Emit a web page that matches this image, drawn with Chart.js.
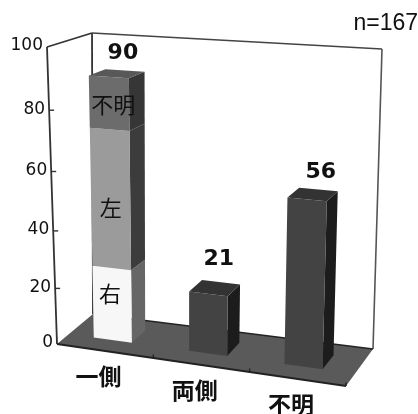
<!DOCTYPE html>
<html>
<head>
<meta charset="utf-8">
<style>
  html, body { margin: 0; padding: 0; background: #fff; }
  canvas { display: block; }
</style>
<script src="https://cdn.jsdelivr.net/npm/chart.js@4"></script>
</head>
<body>
<canvas id="chartLado" width="418" height="414"></canvas>
<script>
const categories = ["一側", "両側", "不明"];
const derecha = [26, 0, 0];
const izquierda = [47, 0, 0];
const noConsta = [17, 0, 0];
const otros = [0, 21, 56];
const yTicks = [0, 20, 40, 60, 80, 100];

// Esquinas de la caja 3D, en píxeles del canvas
const box = {
  fb0: [57, 344], fb1: [346, 386], bb0: [93, 314], bb1: [373, 349],
  ft0: [47, 47], ft1: [356, 66], bt0: [92, 33], bt1: [382, 49],
};
const barFront = 0.33, barBack = 0.72;
const xShift = -0.013;
const sansFont = '"DejaVu Sans", sans-serif';
const cjkFont = '"Noto Sans CJK JP", sans-serif';
// Ajuste fino de los totales sobre cada barra
const totalNudge = [[3, 4], [1, -5], [5, 2]];

const lerp = (a, b, t) => [a[0] + (b[0] - a[0]) * t, a[1] + (b[1] - a[1]) * t];

// u: a lo largo de categorías, d: profundidad, v: altura (todo de 0 a 1)
function project(u, d, v) {
  const w = v - 0.08 * v * (1 - v);
  const bottom = lerp(lerp(box.fb0, box.fb1, u), lerp(box.bb0, box.bb1, u), d);
  const top = lerp(lerp(box.ft0, box.ft1, u), lerp(box.bt0, box.bt1, u), d);
  return lerp(bottom, top, w);
}

function poly(ctx, pts, fill, stroke) {
  ctx.beginPath();
  pts.forEach((p, i) => (i ? ctx.lineTo(p[0], p[1]) : ctx.moveTo(p[0], p[1])));
  ctx.closePath();
  if (fill) { ctx.fillStyle = fill; ctx.fill(); }
  if (stroke) { ctx.strokeStyle = stroke; ctx.stroke(); }
}

function line(ctx, a, b, color, width) {
  ctx.beginPath();
  ctx.moveTo(a[0], a[1]);
  ctx.lineTo(b[0], b[1]);
  ctx.strokeStyle = color;
  ctx.lineWidth = width;
  ctx.stroke();
}

function text(ctx, str, p, font, align) {
  ctx.font = font;
  ctx.fillStyle = "#111";
  ctx.textAlign = align || "center";
  ctx.textBaseline = "middle";
  ctx.fillText(str, p[0], p[1]);
}

// Paredes, suelo, eje Y y etiquetas de categoría
const boxPlugin = {
  id: "box3d",
  beforeDatasetsDraw(chart) {
    const { ctx, scales } = chart;
    const y = scales.y, x = scales.x;
    const h = chart.chartArea.height;
    ctx.save();
    poly(ctx, [box.fb0, box.fb1, box.bb1, box.bb0], "#5a5a5a");
    line(ctx, box.ft0, box.bt0, "#333", 1.8);
    line(ctx, box.bt0, box.bt1, "#444", 1.6);
    line(ctx, box.bt0, box.bb0, "#333", 1.8);
    line(ctx, box.bt1, box.bb1, "#555", 1.6);
    line(ctx, box.bb0, box.bb1, "#222", 1.4);
    line(ctx, box.ft0, box.fb0, "#333", 1.8);
    line(ctx, box.fb0, box.fb1, "#222", 1.8);

    y.ticks.forEach((t) => {
      const v = (chart.chartArea.bottom - y.getPixelForValue(t.value)) / h;
      const p = project(0, 0, v);
      if (t.value > 0 && t.value < 100) line(ctx, p, [p[0] + 5, p[1]], "#333", 1.4);
      text(ctx, t.label, [p[0] - 4, p[1] - 1], "17px " + sansFont, "right");
    });

    categories.forEach((c, i) => {
      const right = project((i + 1) / categories.length, 0, 0);
      line(ctx, right, [right[0], right[1] - 3.5], "#222", 1.4);
      const u = (x.getPixelForValue(i) - chart.chartArea.left) / chart.chartArea.width + xShift;
      const p = project(u, 0, 0);
      text(ctx, c, [p[0] - 3, p[1] + 26], "bold 23px " + cjkFont);
    });
    ctx.restore();
  },
  // Barras apiladas con cara frontal, lateral y superior
  afterDatasetsDraw(chart) {
    const { ctx, chartArea: area, scales } = chart;
    const totals = categories.map((c, i) =>
      chart.data.datasets.reduce((s, ds) => s + ds.data[i], 0));
    ctx.save();
    categories.forEach((c, i) => {
      chart.data.datasets.forEach((ds, k) => {
        if (!ds.data[i]) return;
        const el = chart.getDatasetMeta(k).data[i];
        const u0 = (el.x - el.width / 2 - area.left) / area.width + xShift;
        const u1 = (el.x + el.width / 2 - area.left) / area.width + xShift;
        const v0 = (area.bottom - el.base) / area.height;
        const v1 = (area.bottom - el.y) / area.height;
        poly(ctx, [project(u1, barFront, v0), project(u1, barBack, v0),
          project(u1, barBack, v1), project(u1, barFront, v1)], ds.sideColor);
        poly(ctx, [project(u0, barFront, v0), project(u1, barFront, v0),
          project(u1, barFront, v1), project(u0, barFront, v1)], ds.frontColor);
        if (chart.data.datasets.slice(0, k + 1).reduce((s, d) => s + d.data[i], 0) === totals[i]) {
          poly(ctx, [project(u0, barFront, v1), project(u1, barFront, v1),
            project(u1, barBack, v1), project(u0, barBack, v1)], ds.topColor);
          const top = project((u0 + u1) / 2, (barFront + barBack) / 2, v1);
          text(ctx, String(totals[i]),
            [top[0] + 3 + totalNudge[i][0], top[1] - 24 + totalNudge[i][1]], "bold 22px " + sansFont);
        }
      });
    });
    // Etiquetas dentro de los tramos de la primera barra
    chart.data.datasets.forEach((ds, k) => {
      if (!ds.labelAt) return;
      const el = chart.getDatasetMeta(k).data[0];
      const u = (el.x - area.left) / area.width + xShift;
      const v = (area.bottom - scales.y.getPixelForValue(ds.labelAt)) / area.height;
      const p = project(u, barFront, v);
      text(ctx, ds.label, [p[0] + ds.labelDx, p[1]], "22px " + cjkFont);
    });
    ctx.font = '23px "Liberation Sans", sans-serif';
    ctx.fillStyle = "#111";
    ctx.textAlign = "right";
    ctx.textBaseline = "middle";
    ctx.fillText("n=167", 418, 24);
    ctx.restore();
  },
};

new Chart(document.getElementById("chartLado").getContext("2d"), {
  type: "bar",
  data: {
    labels: categories,
    datasets: [
      { label: "右", data: derecha, labelAt: 17, labelDx: -2, frontColor: "#f7f7f7", sideColor: "#666", topColor: "#ddd" },
      { label: "左", data: izquierda, labelAt: 47, labelDx: 0, frontColor: "#9b9b9b", sideColor: "#3c3c3c", topColor: "#777" },
      { label: "不明", data: noConsta, labelAt: 81, labelDx: 4, frontColor: "#6c6c6c", sideColor: "#363636", topColor: "#585858" },
      { label: "計", data: otros, frontColor: "#434343", sideColor: "#1c1c1c", topColor: "#333" },
    ].map((ds) => ({ ...ds, backgroundColor: "transparent", stack: "total" })),
  },
  options: {
    responsive: false,
    animation: false,
    layout: { padding: 0 },
    plugins: { legend: { display: false }, tooltip: { enabled: false } },
    scales: {
      x: { display: false, stacked: true },
      y: {
        display: false,
        stacked: true,
        min: 0,
        max: 100,
        afterBuildTicks(scale) { scale.ticks = yTicks.map((value) => ({ value, label: String(value) })); },
      },
    },
    datasets: { bar: { categoryPercentage: 1, barPercentage: 0.4 } },
  },
  plugins: [boxPlugin],
});
</script>
</body>
</html>
